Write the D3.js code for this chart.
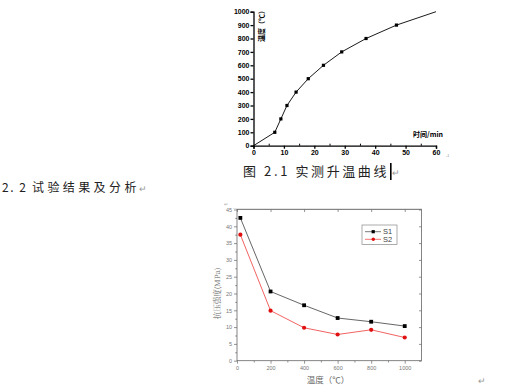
<!DOCTYPE html>
<html><head><meta charset="utf-8">
<script src="https://cdn.jsdelivr.net/npm/d3@7"></script>
<style>body{margin:0;background:#fff}svg{display:block}</style>
</head><body>
<svg id="c" width="518" height="388"></svg>
<script>
// Top chart: measured heating curve
const heatTime = [0, 7, 9, 11, 14, 18, 23, 29, 37, 47, 60];
const heatTemp = [0, 100, 200, 300, 400, 500, 600, 700, 800, 900, 1000];
const heatMarked = [false, true, true, true, true, true, true, true, true, true, false];
const heatXTicks = [0, 10, 20, 30, 40, 50, 60];
const heatYTicks = [0, 100, 200, 300, 400, 500, 600, 700, 800, 900, 1000];

// Bottom chart: compressive strength vs temperature
const tempCats = [20, 200, 400, 600, 800, 1000];
const s1 = [42.5, 20.6, 16.5, 12.7, 11.6, 10.3];
const s2 = [37.5, 14.9, 9.8, 7.8, 9.2, 6.9];
const strXTicks = [0, 200, 400, 600, 800, 1000];
const strYTicks = [0, 5, 10, 15, 20, 25, 30, 35, 40, 45];

const svg = d3.select("#c");

// ---------- top chart ----------
const tx = d3.scaleLinear().domain([0, 60]).range([253.5, 436]);
const ty = d3.scaleLinear().domain([0, 1000]).range([145.7, 11.7]);
const topG = svg.append("g");
const tf = "Liberation Sans, Arial, sans-serif";

const tax = topG.append("g").attr("transform", `translate(0,${ty(0)})`)
  .call(d3.axisBottom(tx).tickValues(heatXTicks).tickSize(3).tickPadding(1).tickFormat(d3.format("d")));
topG.append("g").attr("transform", `translate(0,${ty(0)})`)
  .call(d3.axisTop(tx).tickValues(d3.range(5, 60, 10)).tickSize(2).tickFormat(""))
  .call(g => g.select(".domain").remove())
  .selectAll("line").attr("stroke", "#000");
const tay = topG.append("g").attr("transform", `translate(${tx(0)},0)`)
  .call(d3.axisLeft(ty).tickValues(heatYTicks).tickSize(3).tickPadding(1).tickFormat(d3.format("d")));
[tax, tay].forEach(a => {
  a.selectAll("path,line").attr("stroke", "#000").attr("stroke-width", 1.3);
  a.selectAll("text").attr("font-family", tf).attr("font-size", 7).attr("font-weight", "bold").attr("fill", "#000");
});

const tline = d3.line().x((d, i) => tx(heatTime[i])).y(d => ty(d));
topG.append("path").datum(heatTemp).attr("d", tline)
  .attr("fill", "none").attr("stroke", "#000").attr("stroke-width", 0.9);
topG.selectAll("rect.hm").data(heatTemp.map((v, i) => ({t: heatTime[i], v, m: heatMarked[i]})).filter(d => d.m))
  .join("rect").attr("class", "hm")
  .attr("x", d => tx(d.t) - 1.6).attr("y", d => ty(d.v) - 1.6)
  .attr("width", 3.2).attr("height", 3.2).attr("fill", "#000");

topG.append("text").attr("transform", `translate(263.5,${ty(905)}) rotate(-90)`)
  .attr("text-anchor", "middle").attr("font-family", "Noto Sans CJK SC, sans-serif")
  .attr("font-size", 7).attr("font-weight", "bold").text("温度（℃）");
topG.append("text").attr("x", 428).attr("y", 136.5).attr("text-anchor", "middle")
  .attr("font-family", "Noto Sans CJK SC, sans-serif").attr("font-size", 7).attr("font-weight", "bold")
  .text("时间/min");
topG.append("text").attr("x", 446).attr("y", 157).attr("font-size", 6).attr("fill", "#aaa").text(".ı");

// captions
svg.append("text").attr("x", 243).attr("y", 175.5)
  .attr("font-family", "Noto Sans CJK SC, sans-serif").attr("font-size", 13)
  .attr("letter-spacing", 2.6).attr("fill", "#222").text("图 2.1 实测升温曲线");
svg.append("rect").attr("x", 390).attr("y", 163).attr("width", 1.6).attr("height", 17).attr("fill", "#000");
svg.append("text").attr("x", 392).attr("y", 176).attr("font-size", 9).attr("fill", "#999").text("↵");

svg.append("text").attr("x", 2).attr("y", 191.5)
  .attr("font-family", "Noto Sans CJK SC, sans-serif").attr("font-size", 12)
  .attr("letter-spacing", 1.5).attr("fill", "#222").text("2. 2");
svg.append("text").attr("x", 32).attr("y", 191.5)
  .attr("font-family", "Noto Sans CJK SC, sans-serif").attr("font-size", 12)
  .attr("letter-spacing", 3.4).attr("fill", "#222").text("试验结果及分析");
svg.append("text").attr("x", 139).attr("y", 192).attr("font-size", 9).attr("fill", "#999").text("↵");

svg.append("text").attr("x", 224).attr("y", 205.5).attr("font-size", 5).attr("fill", "#aaa").text("↵");
svg.append("line").attr("x1", 233).attr("x2", 422).attr("y1", 208.5).attr("y2", 208.5)
  .attr("stroke", "#ddd").attr("stroke-width", 0.8);
svg.append("text").attr("x", 478).attr("y", 384).attr("font-size", 9).attr("fill", "#999").text("↵");

// ---------- bottom chart ----------
const bx = d3.scaleLinear().domain([0, 1100]).range([237, 421.5]);
const by = d3.scaleLinear().domain([0, 45]).range([360.7, 209.5]);
const bot = svg.append("g");
const gray = "#666";

bot.append("rect").attr("x", bx(0)).attr("y", by(45)).attr("width", bx(1100) - bx(0)).attr("height", by(0) - by(45))
  .attr("fill", "none").attr("stroke", gray).attr("stroke-width", 0.8);

const bxa = bot.append("g").attr("transform", `translate(0,${by(0)})`)
  .call(d3.axisBottom(bx).tickValues(strXTicks).tickSize(3).tickPadding(2).tickFormat(d3.format("d")));
const bxm = bot.append("g").attr("transform", `translate(0,${by(0)})`)
  .call(d3.axisBottom(bx).tickValues(d3.range(100, 1100, 200)).tickSize(1.8).tickFormat(""));
const bya = bot.append("g").attr("transform", `translate(${bx(0)},0)`)
  .call(d3.axisLeft(by).tickValues(strYTicks).tickSize(3).tickPadding(2).tickFormat(d3.format("d")));
const bym = bot.append("g").attr("transform", `translate(${bx(0)},0)`)
  .call(d3.axisLeft(by).tickValues(d3.range(2.5, 45, 5)).tickSize(1.8).tickFormat(""));
const bta = bot.append("g").attr("transform", `translate(0,${by(45)})`)
  .call(d3.axisBottom(bx).tickValues(strXTicks).tickSize(2.5).tickFormat(""));
const bra = bot.append("g").attr("transform", `translate(${bx(1100)},0)`)
  .call(d3.axisLeft(by).tickValues(strYTicks).tickSize(2.5).tickFormat(""));
[bxa, bxm, bya, bym, bta, bra].forEach(a => {
  a.select(".domain").remove();
  a.selectAll("line").attr("stroke", gray).attr("stroke-width", 0.7);
  a.selectAll("text").attr("font-family", "Liberation Sans, Arial, sans-serif").attr("font-size", 5.5).attr("fill", "#777");
});

const series = [
  {name: "S1", vals: s1, color: "#555", mark: "#000", shape: "square"},
  {name: "S2", vals: s2, color: "#f05050", mark: "#e01010", shape: "circle"}
];
const bline = d3.line().x((d, i) => bx(tempCats[i])).y(d => by(d));
series.forEach(s => {
  bot.append("path").datum(s.vals).attr("d", bline).attr("fill", "none")
    .attr("stroke", s.color).attr("stroke-width", 0.9);
  const pts = s.vals.map((v, i) => [bx(tempCats[i]), by(v)]);
  if (s.shape === "square") {
    bot.selectAll(null).data(pts).join("rect").attr("x", d => d[0] - 1.9).attr("y", d => d[1] - 1.9)
      .attr("width", 3.8).attr("height", 3.8).attr("fill", s.mark);
  } else {
    bot.selectAll(null).data(pts).join("circle").attr("cx", d => d[0]).attr("cy", d => d[1])
      .attr("r", 2.1).attr("fill", s.mark);
  }
});

// legend
const lg = bot.append("g");
lg.append("rect").attr("x", 362).attr("y", 225).attr("width", 35).attr("height", 19.5)
  .attr("fill", "#fff").attr("stroke", "#888").attr("stroke-width", 0.7);
series.forEach((s, i) => {
  const yy = 231.7 + i * 7.6;
  lg.append("line").attr("x1", 365).attr("x2", 381).attr("y1", yy).attr("y2", yy)
    .attr("stroke", s.color).attr("stroke-width", 0.8);
  if (s.shape === "square") lg.append("rect").attr("x", 371.6).attr("y", yy - 1.6).attr("width", 3.2).attr("height", 3.2).attr("fill", s.mark);
  else lg.append("circle").attr("cx", 373.3).attr("cy", yy).attr("r", 1.7).attr("fill", s.mark);
  lg.append("text").attr("x", 383).attr("y", yy + 2.6).attr("font-family", "Liberation Sans, Arial, sans-serif")
    .attr("font-size", 7.5).attr("fill", "#444").text(s.name);
});

bot.append("text").attr("x", 328).attr("y", 383).attr("text-anchor", "middle")
  .attr("font-family", "Noto Sans CJK SC, sans-serif").attr("font-size", 8.5).attr("fill", "#666")
  .text("温度（℃）");
bot.append("text").attr("transform", `translate(220,${by(20)}) rotate(-90)`).attr("text-anchor", "middle")
  .attr("font-family", "Noto Serif CJK SC, Noto Sans CJK SC, serif").attr("font-size", 7.5).attr("fill", "#666")
  .text("抗压强度(MPa)");
</script>
</body></html>
